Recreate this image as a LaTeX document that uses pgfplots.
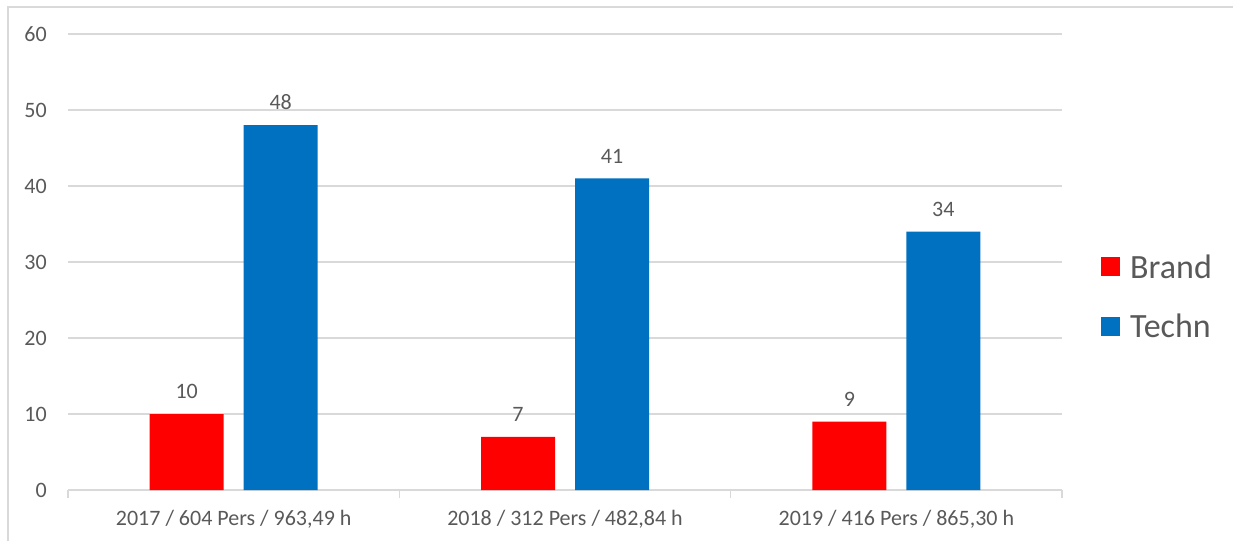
\documentclass[border=0pt]{standalone}
\usepackage{pgfplots}
\pgfplotsset{compat=1.18}
\usepackage{fontspec}
\setmainfont{Carlito}
\definecolor{tgray}{HTML}{595959}
\definecolor{ggray}{HTML}{D9D9D9}
\definecolor{bred}{HTML}{FF0000}
\definecolor{bblue}{HTML}{0070C0}
\begin{document}
\begin{tikzpicture}[x=1pt,y=1pt]
\path[use as bounding box] (0,0) rectangle (1233,541);
\draw[ggray, line width=1.5pt] (8,0) -- (8,534) -- (1233,534);
\begin{axis}[
  at={(68pt,51pt)}, anchor=south west,
  scale only axis, width=994pt, height=456pt,
  xmin=-0.5, xmax=2.5, ymin=0, ymax=60,
  ytick={0,10,...,60},
  xtick={0,1,2},
  xticklabels={2017 / 604 Pers / 963{,}49 h, 2018 / 312 Pers / 482{,}84 h, 2019 / 416 Pers / 865{,}30 h},
  minor xtick={-0.5,0.5,1.5,2.5},
  major tick length=0pt,
  minor tick length=8pt,
  tick align=outside,
  minor tick style={ggray, line width=1.5pt},
  ymajorgrids, major grid style={ggray, line width=1.2pt},
  axis x line*=bottom, axis y line*=left,
  y axis line style={draw=none},
  x axis line style={ggray, line width=1.5pt},
  /pgf/number format/assume math mode=true,
  tick label style={font=\fontsize{22}{22}\selectfont, text=tgray},
  yticklabel style={inner sep=0pt, xshift=-21pt},
  xticklabel style={inner sep=0pt, yshift=-20pt},
  ybar, bar width=74pt,
  nodes near coords,
  every node near coord/.append style={font=\fontsize{22}{22}\selectfont, text=tgray, inner sep=0pt, yshift=15pt},
  legend entries={Brand,Techn},
  legend cell align=left,
  legend image code/.code={\fill[#1] (0pt,-9.5pt) rectangle (19pt,9.5pt);},
  legend style={draw=none, fill=none, at={(1,0.5)}, anchor=west, xshift=36pt, yshift=-34.5pt,
    font=\fontsize{34}{34}\selectfont, text=tgray, row sep=30pt, column sep=8pt},
]
\addplot[fill=bred, draw=none, bar shift=-47pt] coordinates {(0,10) (1,7) (2,9)};
\addplot[fill=bblue, draw=none, bar shift=47pt] coordinates {(0,48) (1,41) (2,34)};
\end{axis}
\end{tikzpicture}
\end{document}
